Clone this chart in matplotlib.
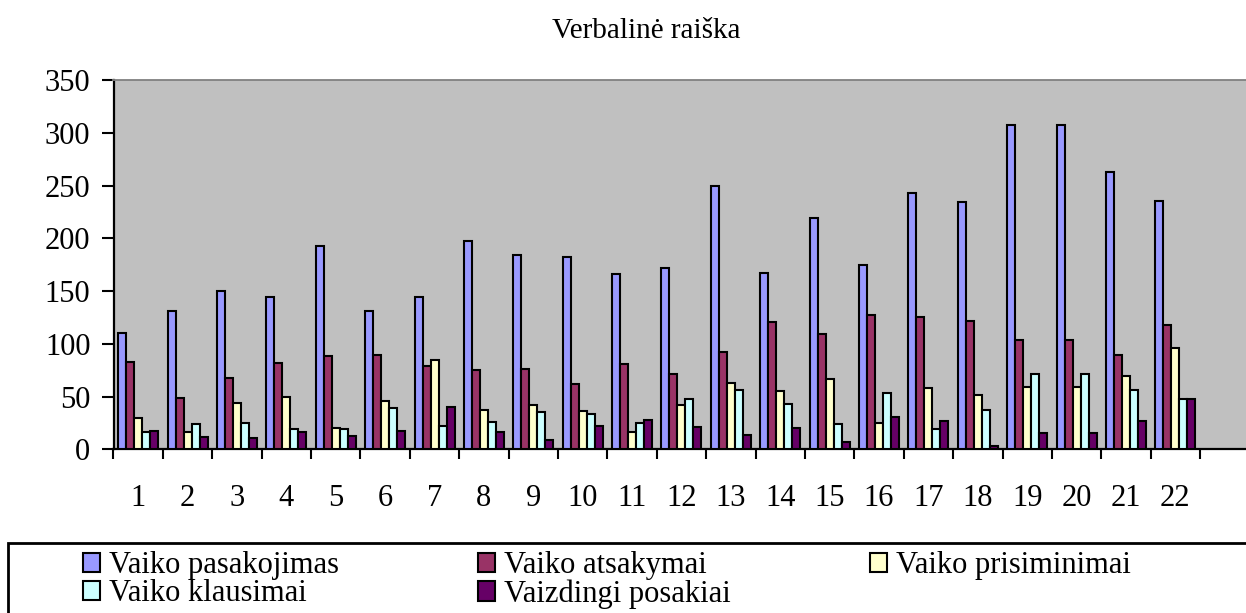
import numpy as np
import matplotlib
matplotlib.use("Agg")
import matplotlib.pyplot as plt
from matplotlib.patches import Rectangle

plt.rcParams['font.family'] = ['Liberation Serif', 'DejaVu Serif']

kategorijos = [str(i) for i in range(1, 23)]
pasakojimas = [110, 131, 150, 144, 193, 131, 144, 197, 184, 182, 166, 172,
               250, 167, 219, 175, 243, 234, 307, 307, 263, 235]
atsakymai = [83, 49, 68, 82, 88, 89, 79, 75, 76, 62, 81, 71,
             92, 121, 109, 127, 125, 122, 104, 104, 89, 118]
prisiminimai = [30, 16, 44, 50, 20, 46, 85, 37, 42, 36, 16, 42,
                63, 55, 67, 25, 58, 51, 59, 59, 69, 96]
klausimai = [16, 24, 25, 19, 19, 39, 22, 26, 35, 33, 25, 48,
             56, 43, 24, 53, 19, 37, 71, 71, 56, 48]
vaizdingi = [17, 12, 11, 16, 13, 17, 40, 16, 9, 22, 28, 21,
             14, 20, 7, 31, 27, 3, 15, 15, 27, 48]

serijos = [pasakojimas, atsakymai, prisiminimai, klausimai, vaizdingi]
pavadinimai = ['Vaiko pasakojimas', 'Vaiko atsakymai', 'Vaiko prisiminimai',
               'Vaiko klausimai', 'Vaizdingi posakiai']
spalvos = ['#9999FF', '#993366', '#FFFFCC', '#CCFFFF', '#660066']

fig = plt.figure(figsize=(12.46, 6.13), dpi=100)
ax = fig.add_axes([113.5 / 1246, (613 - 449.3) / 613, 1 - 113.5 / 1246, 369.3 / 613])
ax.set_facecolor('#C0C0C0')

x = np.arange(len(kategorijos))
w = 0.162
juostos = []
for k, (vals, spalva) in enumerate(zip(serijos, spalvos)):
    b = ax.bar(x + (k - 2) * w, vals, w, color=spalva, edgecolor='black',
               linewidth=1.5, zorder=3)
    juostos.append(b)

ax.set_ylim(0, 350)
ax.set_yticks(range(0, 351, 50))
ax.set_xlim(-0.5, 22.43)
ax.set_xticks(np.arange(-0.5, 22, 1.0))
ax.set_xticklabels([])
ax.set_xticks(x, minor=True)
ax.set_xticklabels(kategorijos, minor=True)

ax.tick_params(axis='y', direction='out', length=8.6, width=1.5, pad=8.0,
               labelsize=22)
ax.tick_params(axis='x', which='major', direction='out', length=7.2, width=1.5)
ax.tick_params(axis='x', which='minor', length=0, pad=25, labelsize=22)

for s in ['left', 'bottom']:
    ax.spines[s].set_linewidth(1.6)
    ax.spines[s].set_color('black')
ax.spines['top'].set_color('#808080')
ax.spines['top'].set_linewidth(1.3)
ax.spines['right'].set_visible(False)

fig.text(646 / 1246, 1 - 38 / 613, 'Verbalinė raiška', ha='center',
         va='baseline', fontsize=21)

# legenda
fig.patches.append(Rectangle((8 / 1246, -0.1), 1.1, (613 - 543) / 613 + 0.1,
                             transform=fig.transFigure, fill=False,
                             edgecolor='black', linewidth=2, clip_on=False))
tvarka = [0, 3, 1, 4, 2]
leg = fig.legend([juostos[i] for i in tvarka], [pavadinimai[i] for i in tvarka],
                 ncol=3, loc='upper left', bbox_to_anchor=(83 / 1246, 1 - 551 / 613),
                 frameon=False, fontsize=22, handlelength=0.55, handleheight=0.6,
                 handletextpad=0.3, columnspacing=4.55, labelspacing=-0.03,
                 borderpad=0, borderaxespad=0)

fig.savefig('out.png', dpi=100)
